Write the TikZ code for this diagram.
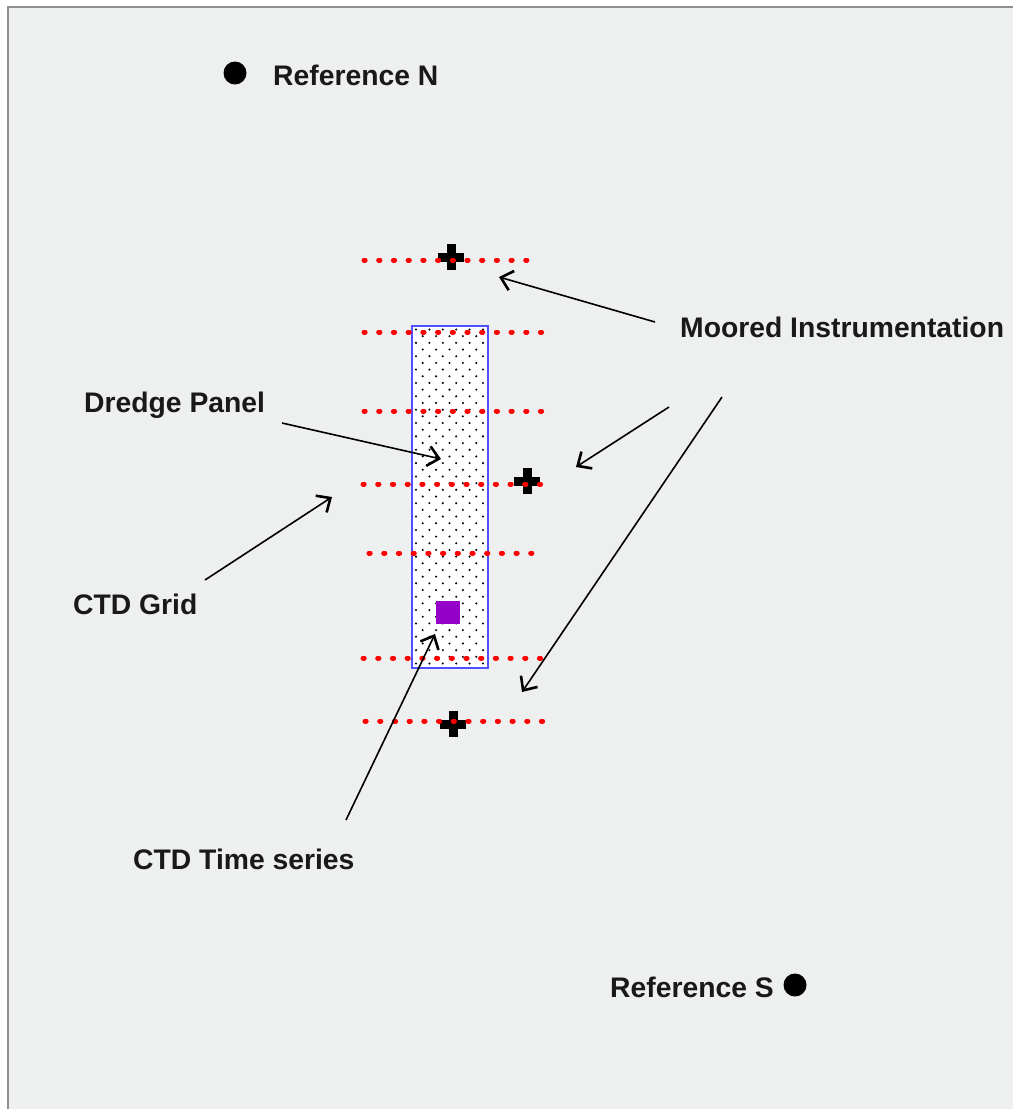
\documentclass[tikz,border=0pt]{standalone}
\usepackage{fontspec}
\setmainfont{Liberation Sans}
\usetikzlibrary{arrows.meta}
\definecolor{bgc}{HTML}{EEEFEF}
\definecolor{framec}{HTML}{8E8E8E}
\definecolor{panelblue}{HTML}{5050FF}
\definecolor{ctdpurple}{RGB}{148,0,200}
\definecolor{dotred}{HTML}{FF0000}
\tikzset{
  lbl/.style={anchor=west, inner sep=0pt, font=\fontsize{28.3}{30}\selectfont\bfseries, text=black!90},
  refdot/.style={circle, fill=black, minimum size=23pt, inner sep=0pt},
  reddots/.style={draw=dotred, line width=5pt, line cap=round, dash pattern=on 1.2pt off 13.5pt},
  pointer/.style={draw=black, line width=1.6pt, -{Straight Barb[length=11pt,width=20pt,line width=2.6pt]}},
  plusbar/.style={line width=9pt, black},
}
\begin{document}
\begin{tikzpicture}[x=1pt,y=-1pt]
\useasboundingbox (0,0) rectangle (1013,1109);
\fill[white] (0,0) rectangle (1013,1109);
\fill[bgc] (8,7) rectangle (1013,1109);
\draw[framec, line width=2pt] (8,1109) -- (8,7) -- (1013,7);

% reference points
\node[refdot] (refN) at (235,73) {};
\node[lbl] (refNlbl) at (273,75) {Reference N};
\node[refdot] (refS) at (795,985) {};
\node[lbl] (refSlbl) at (610,987) {Reference S};

% dredge panel
\node[draw=panelblue, line width=2pt, fill=white, minimum width=76pt, minimum height=342pt, inner sep=0pt] (panel) at (450,497) {};
\foreach \r in {0,...,50}{
  \pgfmathsetmacro{\yy}{329.5+\r*6.68}
  \pgfmathsetmacro{\xo}{mod(\r,2)==0 ? 416 : 422.7}
  \foreach \c in {0,...,5}{
    \pgfmathsetmacro{\xx}{\xo+\c*13.4}
    \ifdim \xx pt<486pt
      \fill[black] (\xx,\yy) circle (1.15pt);
    \fi
  }
}
\node[fill=ctdpurple, minimum width=24pt, minimum height=23pt, inner sep=0pt] (ctd) at (448,612.5) {};

% moored instruments (plus markers)
\foreach \n/\px/\py in {m1/451/257, m2/527/481, m3/453/724}{
  \node[inner sep=0pt, minimum size=26pt] (\n) at (\px,\py) {};
  \draw[plusbar] (\n.west) -- (\n.east);
  \draw[plusbar] (\n.north) -- (\n.south);
}

% red dotted grid lines
\draw[reddots] (364,260) -- (530,260);
\draw[reddots] (364,332) -- (544,332);
\draw[reddots] (364,411) -- (544,411);
\draw[reddots] (363,484) -- (544,484);
\draw[reddots] (369,553) -- (534,553);
\draw[reddots] (363,658) -- (544,658);
\draw[reddots] (365,721) -- (544,721);

% labels
\node[lbl] (moored) at (680,327) {Moored Instrumentation};
\node[lbl] (dredge) at (84,405) {Dredge Panel};
\node[lbl] (grid) at (73,604) {CTD Grid};
\node[lbl] (tseries) at (133,859) {CTD Time series};

% arrow endpoints
\coordinate (a1s) at (655,322);
\coordinate (a1e) at (499,277);
\coordinate (a2s) at (669,407);
\coordinate (a2e) at (576,467);
\coordinate (a3s) at (722,397);
\coordinate (a3e) at (522,692);
\coordinate (a4s) at (282,423);
\coordinate (a4e) at (441,459);
\coordinate (a5s) at (205,580);
\coordinate (a5e) at (332,497);
\coordinate (a6s) at (346,820);
\coordinate (a6e) at (435,634);

\draw[pointer] (a1s) -- (a1e);
\draw[pointer] (a2s) -- (a2e);
\draw[pointer] (a3s) -- (a3e);
\draw[pointer] (a4s) -- (a4e);
\draw[pointer] (a5s) -- (a5e);
\draw[pointer] (a6s) -- (a6e);
\end{tikzpicture}
\end{document}
